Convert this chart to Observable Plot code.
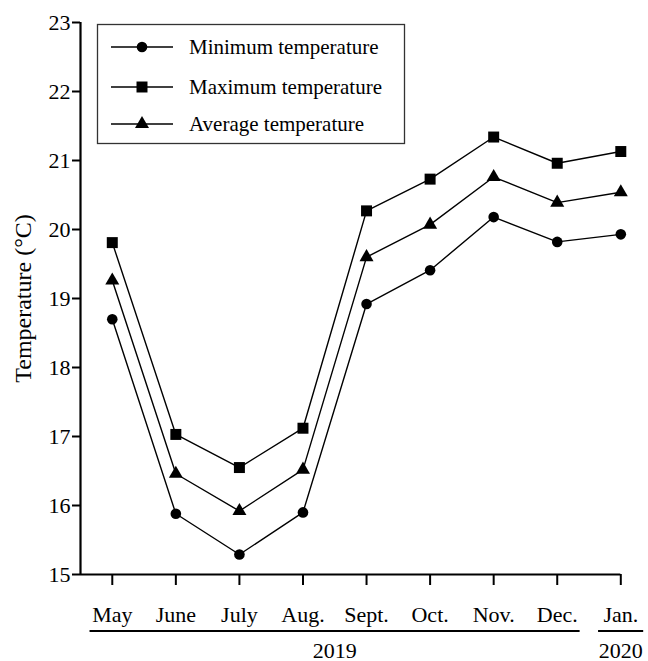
<!DOCTYPE html>
<html>
<head>
<meta charset="utf-8">
<script src="https://cdn.jsdelivr.net/npm/d3@7"></script>
<script src="https://cdn.jsdelivr.net/npm/@observablehq/plot@0.6"></script>
<style>
  html, body { margin: 0; padding: 0; background: #fff; }
  #chart { position: relative; width: 648px; height: 661px; font-family: "Liberation Serif", "Times New Roman", serif; }
  #chart svg text { stroke: none !important; font-weight: normal !important; font-family: "Liberation Serif", "Times New Roman", serif !important; }
  #legend { position: absolute; left: 0; top: 0; }
</style>
</head>
<body>
<div id="chart"></div>
<script>
const months = ["May", "June", "July", "Aug.", "Sept.", "Oct.", "Nov.", "Dec.", "Jan."];
const monthYears = ["2019", "2019", "2019", "2019", "2019", "2019", "2019", "2019", "2020"];
const minTemp = [18.70, 15.88, 15.29, 15.90, 18.92, 19.41, 20.18, 19.82, 19.93];
const maxTemp = [19.81, 17.03, 16.55, 17.12, 20.27, 20.73, 21.34, 20.96, 21.13];
const avgTemp = [19.26, 16.46, 15.92, 16.52, 19.60, 20.07, 20.76, 20.39, 20.54];
const seriesNames = ["Minimum temperature", "Maximum temperature", "Average temperature"];
const seriesSymbols = ["circle", "square", "triangle"];
const seriesR = [5.3, 6.2, 5.2];
const yTicks = [15, 16, 17, 18, 19, 20, 21, 22, 23];

const seriesValues = [minTemp, maxTemp, avgTemp];
const data = seriesValues.flatMap((vals, s) =>
  vals.map((v, i) => ({series: seriesNames[s], i, v})));

// year groups built from the month/year arrays
const years = [];
monthYears.forEach((y, i) => {
  const last = years[years.length - 1];
  if (last && last.year === y) last.end = i; else years.push({year: y, start: i, end: i});
});

const lineMarks = seriesNames.flatMap((name, s) => [
  Plot.line(data.filter(d => d.series === name), {x: "i", y: "v", stroke: "black", strokeWidth: 1.4}),
  Plot.dot(data.filter(d => d.series === name), {x: "i", y: "v", symbol: seriesSymbols[s], r: seriesR[s], fill: "black", stroke: "none"})
]);

const chart = Plot.plot({
  width: 648,
  height: 661,
  marginLeft: 80,
  marginRight: 27.7,
  marginTop: 22,
  marginBottom: 87,
  style: "font-family: 'Liberation Serif', 'Times New Roman', serif; font-size: 22px; color: black; background: white; overflow: visible;",
  x: {domain: [-0.5, months.length - 1]},
  y: {domain: [15, 23]},
  marks: [
    Plot.axisY({ticks: yTicks, tickSize: 8, tickPadding: 2, strokeWidth: 2, tickFormat: d => d,
      label: "Temperature (°C)", labelAnchor: "center", labelArrow: "none", labelOffset: 67, fontSize: 22}),
    Plot.axisX({ticks: d3.range(months.length), tickFormat: i => months[i], tickSize: 11, tickPadding: 21,
      strokeWidth: 2, label: null, fontSize: 22}),
    Plot.ruleX([-0.5], {stroke: "black", strokeWidth: 2.2}),
    Plot.ruleY([15], {stroke: "black", strokeWidth: 2.2}),
    ...lineMarks,
    Plot.ruleY(years, {x1: d => d.start - 0.35, x2: d => d.end + 0.36, y: 15, dy: 56.5, stroke: "black", strokeWidth: 2}),
    Plot.text(years, {x: d => (d.start + d.end) / 2, y: 15, dy: 76, text: "year", fontSize: 22, fill: "black"})
  ]
});
d3.select(chart).selectAll("g[aria-label='y-axis label'] text").attr("font-size", 24);
document.getElementById("chart").appendChild(chart);

// legend overlay
const legend = d3.select("#chart").append("svg")
  .attr("id", "legend").attr("width", 648).attr("height", 200);
legend.append("rect").attr("x", 97.5).attr("y", 24.5).attr("width", 307).attr("height", 119)
  .attr("fill", "white").attr("stroke", "#333").attr("stroke-width", 1.3);
const rowY = [47, 87, 124];
seriesNames.forEach((name, s) => {
  const g = legend.append("g").attr("transform", `translate(0,${rowY[s]})`);
  g.append("line").attr("x1", 111).attr("x2", 173).attr("stroke", "black").attr("stroke-width", 1.4);
  g.append("path").attr("transform", "translate(142,0)")
    .attr("d", d3.symbol(s === 0 ? d3.symbolCircle : s === 1 ? d3.symbolSquare : d3.symbolTriangle, Math.PI * seriesR[s] ** 2)())
    .attr("fill", "black");
  g.append("text").attr("x", 189).attr("y", 0).attr("dy", "0.35em")
    .attr("font-size", 21).text(name);
});
</script>
</body>
</html>
